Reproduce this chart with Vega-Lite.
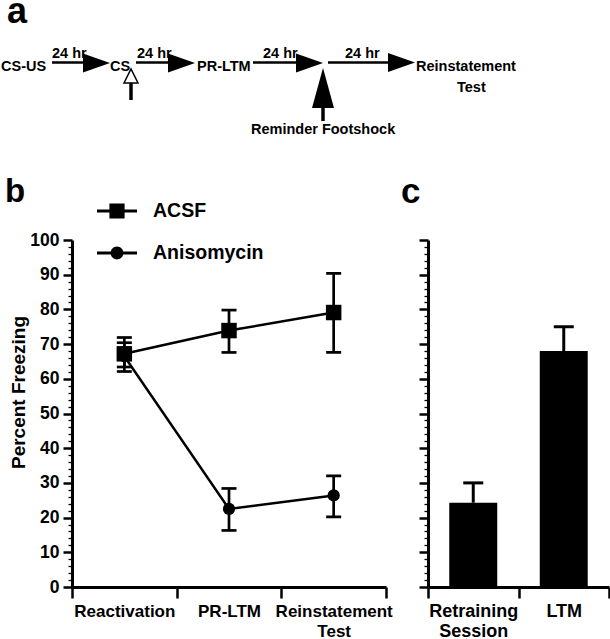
{
  "$schema": "https://vega.github.io/schema/vega-lite/v6.json",
  "padding": {"left": 1, "top": -6, "right": 0, "bottom": 0},
  "bounds": "flush",
  "spacing": 10,
  "config": {
    "view": {"stroke": null},
    "font": "Liberation Sans",
    "axis": {"domainColor": "black", "tickColor": "black", "labelColor": "black", "titleColor": "black", "labelFont": "Liberation Sans", "titleFont": "Liberation Sans", "labelFontWeight": "bold", "titleFontWeight": "bold", "grid": false},
    "title": {"font": "Liberation Sans", "fontWeight": "bold", "color": "black", "anchor": "start", "frame": "group"}
  },
  "datasets": {
    "diagramText": [
      {"label": "CS-US", "x": 1, "y": 70},
      {"label": "24 hr", "x": 52, "y": 57},
      {"label": "CS", "x": 110, "y": 70},
      {"label": "24 hr", "x": 137, "y": 57},
      {"label": "PR-LTM", "x": 197, "y": 70},
      {"label": "24 hr", "x": 263, "y": 57},
      {"label": "24 hr", "x": 345, "y": 57},
      {"label": "Reinstatement", "x": 416, "y": 70},
      {"label": "Test", "x": 457, "y": 91},
      {"label": "Reminder Footshock", "x": 251, "y": 133}
    ],
    "shafts": [
      {"kind": "h", "x": 52, "x2": 92, "y": 61.5, "y2": 61.5},
      {"kind": "h", "x": 136, "x2": 175, "y": 61.5, "y2": 61.5},
      {"kind": "h", "x": 253, "x2": 305, "y": 61.5, "y2": 61.5},
      {"kind": "h", "x": 328, "x2": 397, "y": 61.5, "y2": 61.5},
      {"kind": "v", "x": 323, "x2": 323, "y": 100, "y2": 120},
      {"kind": "v", "x": 131, "x2": 131, "y": 82, "y2": 99}
    ],
    "heads": [
      {"kind": "right", "x": 96.5, "y": 62},
      {"kind": "right", "x": 181.5, "y": 62},
      {"kind": "right", "x": 309.5, "y": 62},
      {"kind": "right", "x": 401.5, "y": 61.5},
      {"kind": "up", "x": 323, "y": 87},
      {"kind": "open", "x": 131, "y": 75}
    ],
    "freezing": [
      {"session": "Reactivation", "group": "Anisomycin", "mean": 66.5, "lo": 63.4, "hi": 70.4},
      {"session": "PR-LTM", "group": "Anisomycin", "mean": 22.5, "lo": 16.3, "hi": 28.4},
      {"session": "Reinstatement Test", "group": "Anisomycin", "mean": 26.4, "lo": 20.2, "hi": 32.0},
      {"session": "Reactivation", "group": "ACSF", "mean": 67.2, "lo": 62.1, "hi": 71.9},
      {"session": "PR-LTM", "group": "ACSF", "mean": 73.9, "lo": 67.6, "hi": 79.8},
      {"session": "Reinstatement Test", "group": "ACSF", "mean": 79.1, "lo": 67.6, "hi": 90.4}
    ],
    "retraining": [
      {"session": "Retraining Session", "mean": 24.3, "hi": 30.0},
      {"session": "LTM", "mean": 68.0, "hi": 75.0}
    ]
  },
  "vconcat": [
    {
      "title": {"text": "a", "fontSize": 36, "dx": -65, "offset": 0},
      "width": 537,
      "height": 199,
      "encoding": {
        "x": {"field": "x", "type": "quantitative", "scale": {"domain": [72, 609], "nice": false, "zero": false}, "axis": null},
        "y": {"field": "y", "type": "quantitative", "scale": {"domain": [30, 229], "nice": false, "zero": false, "reverse": true}, "axis": null}
      },
      "layer": [
        {
          "data": {"name": "diagramText"},
          "mark": {"type": "text", "align": "left", "baseline": "alphabetic", "fontSize": 14.5, "fontWeight": "bold", "color": "black"},
          "encoding": {"text": {"field": "label"}}
        },
        {
          "data": {"name": "shafts"},
          "transform": [{"filter": "datum.kind == 'h'"}],
          "mark": {"type": "rule", "color": "black", "strokeWidth": 2.7},
          "encoding": {"x2": {"field": "x2"}, "y2": {"field": "y2"}}
        },
        {
          "data": {"name": "shafts"},
          "transform": [{"filter": "datum.kind == 'v'"}],
          "mark": {"type": "rule", "color": "black", "strokeWidth": 3.5},
          "encoding": {"x2": {"field": "x2"}, "y2": {"field": "y2"}}
        },
        {
          "data": {"name": "heads"},
          "transform": [{"filter": "datum.kind == 'right'"}],
          "mark": {"type": "point", "shape": "M-1,-0.7L1,0L-1,0.7Z", "size": 729, "filled": true, "opacity": 1, "color": "black", "strokeWidth": 0}
        },
        {
          "data": {"name": "heads"},
          "transform": [{"filter": "datum.kind == 'up'"}],
          "mark": {"type": "point", "shape": "M-0.55,1L0,-1L0.55,1Z", "size": 1600, "filled": true, "opacity": 1, "color": "black", "strokeWidth": 0}
        },
        {
          "data": {"name": "heads"},
          "transform": [{"filter": "datum.kind == 'open'"}],
          "mark": {"type": "point", "shape": "M-1,1L0,-1L1,1Z", "size": 196, "filled": true, "opacity": 1, "fill": "white", "stroke": "black", "strokeWidth": 1.5}
        }
      ]
    },
    {
      "bounds": "flush",
      "spacing": 42,
      "hconcat": [
        {
          "title": {"text": "b", "fontSize": 33, "dx": -67, "offset": 22},
          "width": 314,
          "height": 347,
          "data": {"name": "freezing"},
          "layer": [
            {
              "mark": {"type": "rule", "color": "black", "strokeWidth": 2.7},
              "encoding": {
                "x": {"field": "session", "type": "nominal", "sort": ["Reactivation", "PR-LTM", "Reinstatement Test"], "scale": {"type": "band", "paddingInner": 0, "paddingOuter": 0},
                  "axis": {"title": null, "labelAngle": 0, "tickBand": "extent", "domainWidth": 3, "tickWidth": 2.5, "tickSize": 11, "labelFontSize": 17, "labelPadding": 5, "labelLineHeight": 20, "labelLimit": 300,
                    "labelExpr": "datum.value == 'Reinstatement Test' ? ['Reinstatement', 'Test'] : datum.label"}},
                "y": {"field": "lo", "type": "quantitative", "scale": {"domain": [0, 100], "nice": false},
                  "axis": {"values": [0, 10, 20, 30, 40, 50, 60, 70, 80, 90, 100], "tickSize": 9, "tickWidth": 2.5, "domainWidth": 3, "labelFontSize": 17.5, "labelPadding": 4, "labelFlush": false,
                    "title": "Percent Freezing", "titleFontSize": 19, "titleX": -44, "titleY": 152}},
                "y2": {"field": "hi"}
              }
            },
            {
              "mark": {"type": "tick", "color": "black", "thickness": 2.7, "size": 15, "opacity": 1},
              "encoding": {
                "x": {"field": "session", "type": "nominal", "sort": ["Reactivation", "PR-LTM", "Reinstatement Test"]},
                "y": {"field": "lo", "type": "quantitative", "axis": null}
              }
            },
            {
              "mark": {"type": "tick", "color": "black", "thickness": 2.7, "size": 15, "opacity": 1},
              "encoding": {
                "x": {"field": "session", "type": "nominal", "sort": ["Reactivation", "PR-LTM", "Reinstatement Test"]},
                "y": {"field": "hi", "type": "quantitative",
                  "axis": {"orient": "left", "values": [2, 4, 6, 8, 12, 14, 16, 18, 22, 24, 26, 28, 32, 34, 36, 38, 42, 44, 46, 48, 52, 54, 56, 58, 62, 64, 66, 68, 72, 74, 76, 78, 82, 84, 86, 88, 92, 94, 96, 98], "tickSize": 4, "tickWidth": 1.3, "labels": false, "domain": false, "title": null}}
              }
            },
            {
              "mark": {"type": "line", "color": "black", "strokeWidth": 2.5},
              "encoding": {
                "x": {"field": "session", "type": "nominal", "sort": ["Reactivation", "PR-LTM", "Reinstatement Test"]},
                "y": {"field": "mean", "type": "quantitative", "axis": null},
                "detail": {"field": "group", "type": "nominal"}
              }
            },
            {
              "transform": [{"filter": "datum.group == 'Anisomycin'"}],
              "mark": {"type": "point", "filled": true, "opacity": 1, "color": "black", "size": 150, "shape": "circle", "strokeWidth": 0},
              "encoding": {
                "x": {"field": "session", "type": "nominal", "sort": ["Reactivation", "PR-LTM", "Reinstatement Test"]},
                "y": {"field": "mean", "type": "quantitative", "axis": null}
              }
            },
            {
              "transform": [{"filter": "datum.group == 'ACSF'"}],
              "mark": {"type": "point", "filled": true, "opacity": 1, "color": "black", "size": 240, "shape": "square", "strokeWidth": 0},
              "encoding": {
                "x": {"field": "session", "type": "nominal", "sort": ["Reactivation", "PR-LTM", "Reinstatement Test"]},
                "y": {"field": "mean", "type": "quantitative", "axis": null}
              }
            },
            {
              "mark": {"type": "point", "filled": true, "opacity": 0, "color": "black", "strokeWidth": 0},
              "encoding": {
                "x": {"field": "session", "type": "nominal", "sort": ["Reactivation", "PR-LTM", "Reinstatement Test"]},
                "y": {"field": "mean", "type": "quantitative", "axis": null},
                "shape": {"field": "group", "type": "nominal", "scale": {"domain": ["ACSF", "Anisomycin"],
                    "range": ["M-1,-0.07H-0.3V0.07H-1ZM0.3,-0.07H1V0.07H0.3ZM-0.38,-0.38H0.38V0.38H-0.38Z", "M-1,-0.07H-0.3V0.07H-1ZM0.3,-0.07H1V0.07H0.3ZM-0.32,0A0.32,0.32,0,1,1,0.32,0A0.32,0.32,0,1,1,-0.32,0Z"]},
                  "legend": {"title": null, "orient": "none", "legendX": 25, "legendY": 160, "direction": "vertical", "symbolSize": 1600, "symbolOpacity": 1, "labelOffset": 16, "rowPadding": 12, "padding": 0, "offset": 0,
                    "labelFontSize": 19.5, "labelFont": "Liberation Sans", "labelFontWeight": "bold", "labelColor": "black", "labelLimit": 300, "symbolFillColor": "black", "symbolStrokeWidth": 0}}
              }
            }
          ],
          "resolve": {"axis": {"y": "independent"}}
        },
        {
          "title": {"text": "c", "fontSize": 35, "dx": -27, "offset": 29},
          "width": 181,
          "height": 347,
          "data": {"name": "retraining"},
          "layer": [
            {
              "mark": {"type": "bar", "color": "black", "width": {"band": 0.53}},
              "encoding": {
                "x": {"field": "session", "type": "nominal", "sort": ["Retraining Session", "LTM"], "scale": {"type": "band", "paddingInner": 0, "paddingOuter": 0},
                  "axis": {"title": null, "labelAngle": 0, "tickBand": "extent", "domainWidth": 3, "tickWidth": 2.5, "tickSize": 11, "labelFontSize": 18, "labelPadding": 4, "labelLineHeight": 20, "labelLimit": 300,
                    "labelExpr": "datum.value == 'Retraining Session' ? ['Retraining', 'Session'] : datum.label"}},
                "y": {"field": "mean", "type": "quantitative", "scale": {"domain": [0, 100], "nice": false},
                  "axis": {"values": [0, 10, 20, 30, 40, 50, 60, 70, 80, 90, 100], "tickSize": 9, "tickWidth": 2.5, "domainWidth": 3, "labels": false, "title": null}}
              }
            },
            {
              "mark": {"type": "rule", "color": "black", "strokeWidth": 3},
              "encoding": {
                "x": {"field": "session", "type": "nominal", "sort": ["Retraining Session", "LTM"]},
                "y": {"field": "mean", "type": "quantitative",
                  "axis": {"orient": "left", "values": [2, 4, 6, 8, 12, 14, 16, 18, 22, 24, 26, 28, 32, 34, 36, 38, 42, 44, 46, 48, 52, 54, 56, 58, 62, 64, 66, 68, 72, 74, 76, 78, 82, 84, 86, 88, 92, 94, 96, 98], "tickSize": 4, "tickWidth": 1.3, "labels": false, "domain": false, "title": null}},
                "y2": {"field": "hi"}
              }
            },
            {
              "mark": {"type": "tick", "color": "black", "thickness": 3, "size": 20, "opacity": 1},
              "encoding": {
                "x": {"field": "session", "type": "nominal", "sort": ["Retraining Session", "LTM"]},
                "y": {"field": "hi", "type": "quantitative", "axis": null}
              }
            }
          ],
          "resolve": {"axis": {"y": "independent"}}
        }
      ]
    }
  ]
}
